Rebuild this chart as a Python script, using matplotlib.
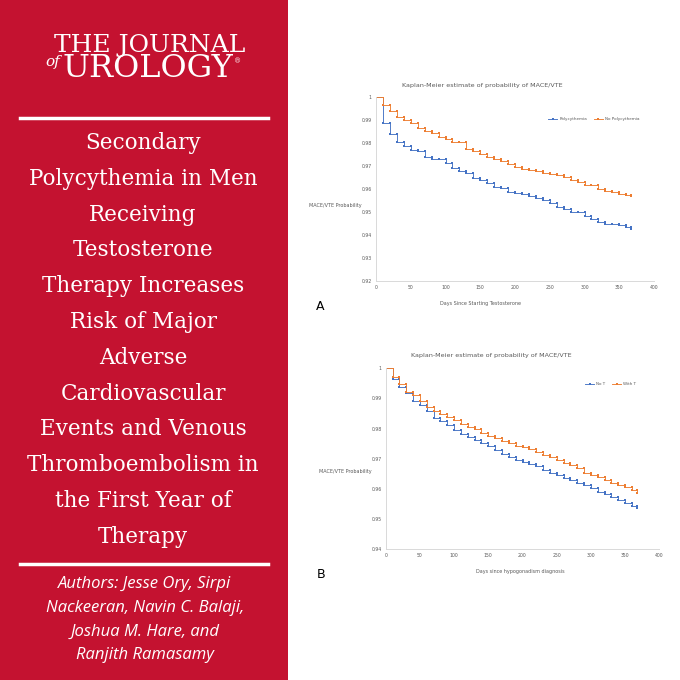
import matplotlib
matplotlib.use("Agg")
import matplotlib.pyplot as plt
from matplotlib.patches import Rectangle
import numpy as np

# days of follow-up (step points every 10 days, last at day 367)
days = list(range(0, 370, 10)) + [367]

# panel A: polycythemia vs no polycythemia
a_poly = [1, 0.9886, 0.9841, 0.9803, 0.9787, 0.9770, 0.9767, 0.9741, 0.9729, 0.9729,
          0.9712, 0.9693, 0.9680, 0.9671, 0.9649, 0.9639, 0.9628, 0.9607, 0.9603, 0.9588,
          0.9583, 0.9577, 0.9570, 0.9561, 0.9551, 0.9539, 0.9520, 0.9512, 0.9500, 0.9500,
          0.9483, 0.9471, 0.9458, 0.9449, 0.9448, 0.9443, 0.9433, 0.9428]
a_nopoly = [1, 0.9967, 0.9941, 0.9914, 0.9900, 0.9886, 0.9864, 0.9852, 0.9842, 0.9828,
            0.9816, 0.9806, 0.9806, 0.9775, 0.9764, 0.9752, 0.9738, 0.9732, 0.9723, 0.9709,
            0.9694, 0.9687, 0.9683, 0.9677, 0.9670, 0.9665, 0.9660, 0.9651, 0.9639, 0.9630,
            0.9619, 0.9616, 0.9599, 0.9591, 0.9586, 0.9578, 0.9574, 0.9570]

# panel B: no testosterone vs with testosterone
b_not = [1, 0.9964, 0.9937, 0.9917, 0.9892, 0.9879, 0.9858, 0.9836, 0.9825, 0.9813,
         0.9796, 0.9783, 0.9773, 0.9761, 0.9751, 0.9742, 0.9729, 0.9717, 0.9707, 0.9696,
         0.9689, 0.9683, 0.9676, 0.9663, 0.9654, 0.9647, 0.9636, 0.9630, 0.9619, 0.9612,
         0.9603, 0.9590, 0.9583, 0.9573, 0.9563, 0.9552, 0.9545, 0.9537]
b_witht = [1, 0.9971, 0.9949, 0.9923, 0.9910, 0.9893, 0.9873, 0.9859, 0.9849, 0.9840,
           0.9828, 0.9815, 0.9804, 0.9798, 0.9787, 0.9776, 0.9768, 0.9760, 0.9752, 0.9744,
           0.9738, 0.9731, 0.9722, 0.9713, 0.9705, 0.9696, 0.9687, 0.9679, 0.9668, 0.9654,
           0.9646, 0.9639, 0.9630, 0.9621, 0.9614, 0.9608, 0.9597, 0.9588]

title_lines = ["Secondary", "Polycythemia in Men", "Receiving", "Testosterone",
               "Therapy Increases", "Risk of Major", "Adverse", "Cardiovascular",
               "Events and Venous", "Thromboembolism in", "the First Year of", "Therapy"]
author_lines = ["Authors: Jesse Ory, Sirpi", "Nackeeran, Navin C. Balaji,",
                "Joshua M. Hare, and", "Ranjith Ramasamy"]

RED = "#C41230"
BLUE = "#4472C4"
ORANGE = "#ED7D31"
W = 680.0


def px(x, y):
    # pixel coords (top-left origin) -> figure fraction
    return x / W, 1 - y / W


def km_xy(d, s):
    x = np.repeat(d, 2)[1:]
    y = np.repeat(s, 2)[:-1]
    return x, y


fig = plt.figure(figsize=(6.8, 6.8), dpi=100)
fig.patch.set_facecolor("white")

# left red panel
fig.patches.append(Rectangle((0, 0), 288 / W, 1, transform=fig.transFigure,
                             facecolor=RED, edgecolor="none", zorder=0))

serif = ["DejaVu Serif"]
fig.text(*px(150, 52), "THE JOURNAL", color="white", fontsize=18, family=serif,
         ha="center", va="baseline")
uro = fig.text(*px(148, 77), "UROLOGY", color="white", fontsize=23, family=serif,
               ha="center", va="baseline")
# put "of" and the registered sign next to UROLOGY
bb = uro.get_window_extent(fig.canvas.get_renderer())
fig.text(bb.x0 / W - 3 / W, 1 - 66 / W, "of", color="white", fontsize=11,
         family=serif, style="italic", ha="right", va="baseline")
fig.text(bb.x1 / W + 4 / W, 1 - 61 / W, "®", color="white", fontsize=5,
         family=serif, ha="center", va="center")
fig.add_artist(plt.Line2D([20 / W, 268 / W], [1 - 118 / W] * 2, color="white", lw=2.5))

for i, line in enumerate(title_lines):
    fig.text(*px(143, 143 + i * 35.8), line, color="white", fontsize=15.5, family=serif,
             ha="center", va="center")

fig.add_artist(plt.Line2D([20 / W, 268 / W], [1 - 564 / W] * 2, color="white", lw=2.5))

sans = ["Liberation Sans Narrow", "Open Sans", "DejaVu Sans"]
for i, line in enumerate(author_lines):
    fig.text(*px(145, 584 + i * 23.8), line, color="white", fontsize=12, family=sans,
             style="italic", ha="center", va="center")


def km_panel(rect, series, ymin, xlabel, letter, title_xy, label_xy, xlabel_xy,
             letter_xy, legend_xy):
    ax = fig.add_axes(rect)
    for s, col, name in series:
        x, y = km_xy(days, s)
        ax.plot(x, y, color=col, lw=0.65, marker="s", markersize=1.7,
                markeredgewidth=0, label=name)
    ax.set_xlim(0, 400)
    ax.set_ylim(ymin, 1)
    ax.set_xticks(range(0, 401, 50))
    yt = np.arange(ymin, 1.0001, 0.01)
    ax.set_yticks(yt)
    ax.set_yticklabels(["1" if abs(v - 1) < 1e-9 else f"{v:.2f}" for v in yt])
    ax.tick_params(length=0, labelsize=3.3, colors="#595959", pad=3)
    for sp in ["top", "right"]:
        ax.spines[sp].set_visible(False)
    for sp in ["left", "bottom"]:
        ax.spines[sp].set_color("#D9D9D9")
        ax.spines[sp].set_linewidth(0.7)
    ax.patch.set_alpha(0)
    fig.text(*px(*title_xy), "Kaplan-Meier estimate of probability of MACE/VTE",
             fontsize=4.6, color="#595959", ha="center", va="center")
    fig.text(*px(*label_xy), "MACE/VTE Probability", fontsize=3.5, color="#595959",
             ha="left", va="center")
    fig.text(*px(*xlabel_xy), xlabel, fontsize=3.5, color="#595959",
             ha="center", va="center")
    fig.text(*px(*letter_xy), letter, fontsize=9, color="black",
             ha="center", va="center")
    ax.legend(loc="center left", bbox_to_anchor=px(*legend_xy),
              bbox_transform=fig.transFigure, ncol=2, frameon=False,
              fontsize=3.0, handlelength=2.2, handletextpad=0.5,
              columnspacing=1.6, labelcolor="#595959", borderpad=0, borderaxespad=0)
    return ax


km_panel([376 / W, 1 - 281 / W, 278 / W, 184 / W],
         [(a_poly, BLUE, "Polycythemia"), (a_nopoly, ORANGE, "No Polycythemia")],
         0.92, "Days Since Starting Testosterone", "A",
         (482, 85), (309, 206), (481, 303), (320, 307), (548, 119))

km_panel([385.7 / W, 1 - 549.3 / W, 273.6 / W, 181 / W],
         [(b_not, BLUE, "No T"), (b_witht, ORANGE, "With T")],
         0.94, "Days since hypogonadism diagnosis", "B",
         (491, 356), (319, 472), (520, 571), (321, 575), (585, 384))

fig.savefig("out.png", dpi=100, facecolor="white")
